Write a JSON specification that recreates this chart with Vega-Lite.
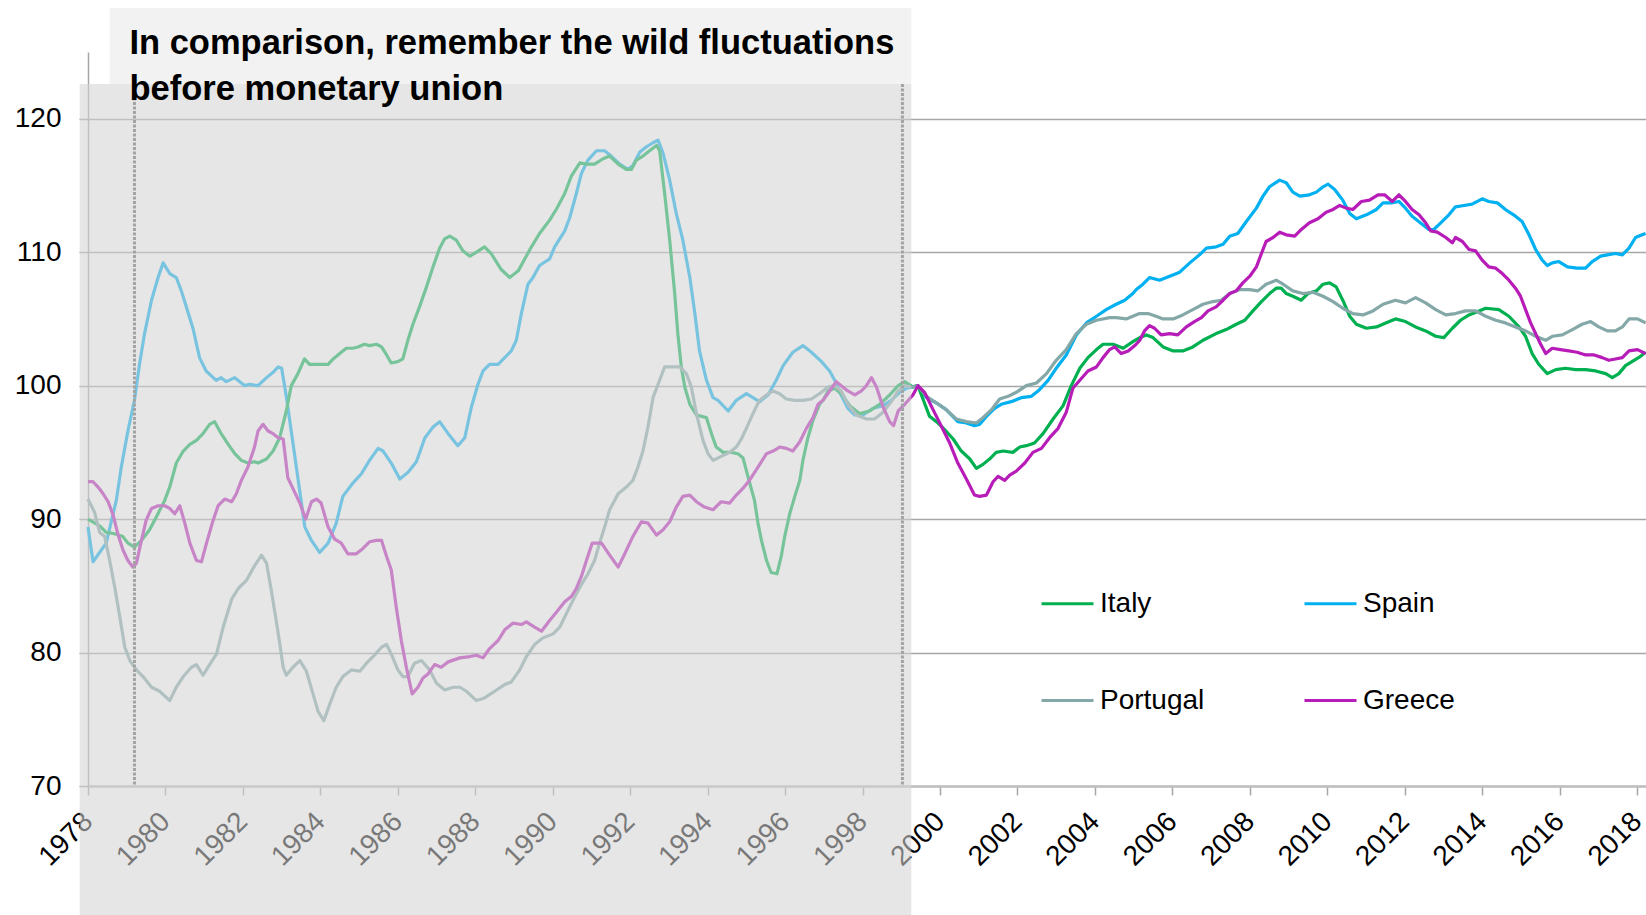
{
"$schema":"https://vega.github.io/schema/vega-lite/v6.json",
"width":1558,"height":734,
"autosize":{"type":"none"},
"padding":{"left":88,"top":52,"right":0,"bottom":129},
"background":"white",
"config":{"view":{"stroke":null},"axis":{"zindex":0}},
"datasets":{"series":[
{"c":"Spain","t":1978.0,"v":89.4},{"c":"Spain","t":1978.13,"v":86.8},{"c":"Spain","t":1978.47,"v":88.2},{"c":"Spain","t":1978.73,"v":91.4},{"c":"Spain","t":1978.86,"v":93.9},{"c":"Spain","t":1979.03,"v":96.6},{"c":"Spain","t":1979.2,"v":98.9},{"c":"Spain","t":1979.33,"v":101.6},{"c":"Spain","t":1979.46,"v":103.9},{"c":"Spain","t":1979.64,"v":106.4},{"c":"Spain","t":1979.81,"v":108.1},{"c":"Spain","t":1979.94,"v":109.2},{"c":"Spain","t":1980.11,"v":108.4},{"c":"Spain","t":1980.28,"v":108.1},{"c":"Spain","t":1980.41,"v":107.1},{"c":"Spain","t":1980.54,"v":105.9},{"c":"Spain","t":1980.71,"v":104.3},{"c":"Spain","t":1980.88,"v":102.1},{"c":"Spain","t":1981.05,"v":101.1},{"c":"Spain","t":1981.31,"v":100.4},{"c":"Spain","t":1981.44,"v":100.6},{"c":"Spain","t":1981.57,"v":100.3},{"c":"Spain","t":1981.79,"v":100.6},{"c":"Spain","t":1982.05,"v":100.0},{"c":"Spain","t":1982.17,"v":100.1},{"c":"Spain","t":1982.39,"v":100.0},{"c":"Spain","t":1982.61,"v":100.6},{"c":"Spain","t":1982.78,"v":101.0},{"c":"Spain","t":1982.91,"v":101.4},{"c":"Spain","t":1983.0,"v":101.3},{"c":"Spain","t":1983.12,"v":99.2},{"c":"Spain","t":1983.6,"v":89.4},{"c":"Spain","t":1983.77,"v":88.4},{"c":"Spain","t":1983.98,"v":87.5},{"c":"Spain","t":1984.2,"v":88.2},{"c":"Spain","t":1984.41,"v":89.7},{"c":"Spain","t":1984.58,"v":91.7},{"c":"Spain","t":1984.84,"v":92.7},{"c":"Spain","t":1985.06,"v":93.4},{"c":"Spain","t":1985.27,"v":94.4},{"c":"Spain","t":1985.49,"v":95.3},{"c":"Spain","t":1985.62,"v":95.1},{"c":"Spain","t":1985.83,"v":94.2},{"c":"Spain","t":1986.05,"v":93.0},{"c":"Spain","t":1986.26,"v":93.5},{"c":"Spain","t":1986.48,"v":94.3},{"c":"Spain","t":1986.7,"v":96.1},{"c":"Spain","t":1986.91,"v":96.9},{"c":"Spain","t":1987.08,"v":97.3},{"c":"Spain","t":1987.3,"v":96.4},{"c":"Spain","t":1987.55,"v":95.5},{"c":"Spain","t":1987.73,"v":96.1},{"c":"Spain","t":1987.9,"v":98.4},{"c":"Spain","t":1988.07,"v":100.1},{"c":"Spain","t":1988.2,"v":101.1},{"c":"Spain","t":1988.37,"v":101.6},{"c":"Spain","t":1988.59,"v":101.6},{"c":"Spain","t":1988.76,"v":102.1},{"c":"Spain","t":1988.93,"v":102.6},{"c":"Spain","t":1989.06,"v":103.4},{"c":"Spain","t":1989.19,"v":105.4},{"c":"Spain","t":1989.36,"v":107.6},{"c":"Spain","t":1989.49,"v":108.1},{"c":"Spain","t":1989.66,"v":109.0},{"c":"Spain","t":1989.92,"v":109.5},{"c":"Spain","t":1990.05,"v":110.4},{"c":"Spain","t":1990.31,"v":111.6},{"c":"Spain","t":1990.44,"v":112.6},{"c":"Spain","t":1990.61,"v":114.4},{"c":"Spain","t":1990.74,"v":115.9},{"c":"Spain","t":1990.91,"v":116.9},{"c":"Spain","t":1991.13,"v":117.6},{"c":"Spain","t":1991.34,"v":117.6},{"c":"Spain","t":1991.51,"v":117.2},{"c":"Spain","t":1991.73,"v":116.6},{"c":"Spain","t":1991.94,"v":116.2},{"c":"Spain","t":1992.07,"v":116.5},{"c":"Spain","t":1992.25,"v":117.5},{"c":"Spain","t":1992.42,"v":117.9},{"c":"Spain","t":1992.59,"v":118.2},{"c":"Spain","t":1992.72,"v":118.4},{"c":"Spain","t":1992.85,"v":117.4},{"c":"Spain","t":1993.02,"v":115.4},{"c":"Spain","t":1993.19,"v":112.9},{"c":"Spain","t":1993.36,"v":110.9},{"c":"Spain","t":1993.54,"v":108.1},{"c":"Spain","t":1993.67,"v":105.4},{"c":"Spain","t":1993.79,"v":102.6},{"c":"Spain","t":1993.97,"v":100.4},{"c":"Spain","t":1994.14,"v":99.1},{"c":"Spain","t":1994.27,"v":98.9},{"c":"Spain","t":1994.53,"v":98.1},{"c":"Spain","t":1994.74,"v":98.9},{"c":"Spain","t":1995.0,"v":99.4},{"c":"Spain","t":1995.17,"v":99.1},{"c":"Spain","t":1995.34,"v":98.8},{"c":"Spain","t":1995.56,"v":99.3},{"c":"Spain","t":1995.77,"v":100.4},{"c":"Spain","t":1995.95,"v":101.5},{"c":"Spain","t":1996.2,"v":102.5},{"c":"Spain","t":1996.46,"v":103.0},{"c":"Spain","t":1996.68,"v":102.5},{"c":"Spain","t":1996.94,"v":101.8},{"c":"Spain","t":1997.15,"v":101.1},{"c":"Spain","t":1997.28,"v":100.4},{"c":"Spain","t":1997.41,"v":99.5},{"c":"Spain","t":1997.62,"v":98.3},{"c":"Spain","t":1997.8,"v":97.8},{"c":"Spain","t":1998.01,"v":97.8},{"c":"Spain","t":1998.27,"v":98.3},{"c":"Spain","t":1998.53,"v":98.5},{"c":"Spain","t":1998.74,"v":98.9},{"c":"Spain","t":1998.96,"v":99.5},{"c":"Spain","t":1999.13,"v":99.8},{"c":"Spain","t":1999.43,"v":100.0},{"c":"Spain","t":1999.65,"v":99.1},{"c":"Spain","t":1999.91,"v":98.7},{"c":"Spain","t":2000.16,"v":98.2},{"c":"Spain","t":2000.46,"v":97.3},{"c":"Spain","t":2000.68,"v":97.2},{"c":"Spain","t":2000.89,"v":97.0},{"c":"Spain","t":2001.02,"v":97.1},{"c":"Spain","t":2001.2,"v":97.7},{"c":"Spain","t":2001.41,"v":98.3},{"c":"Spain","t":2001.58,"v":98.6},{"c":"Spain","t":2001.84,"v":98.8},{"c":"Spain","t":2002.1,"v":99.1},{"c":"Spain","t":2002.36,"v":99.2},{"c":"Spain","t":2002.57,"v":99.7},{"c":"Spain","t":2002.79,"v":100.4},{"c":"Spain","t":2003.0,"v":101.3},{"c":"Spain","t":2003.26,"v":102.3},{"c":"Spain","t":2003.52,"v":103.8},{"c":"Spain","t":2003.78,"v":104.7},{"c":"Spain","t":2004.04,"v":105.2},{"c":"Spain","t":2004.29,"v":105.7},{"c":"Spain","t":2004.55,"v":106.1},{"c":"Spain","t":2004.77,"v":106.4},{"c":"Spain","t":2004.98,"v":106.9},{"c":"Spain","t":2005.07,"v":107.2},{"c":"Spain","t":2005.24,"v":107.6},{"c":"Spain","t":2005.41,"v":108.1},{"c":"Spain","t":2005.67,"v":107.9},{"c":"Spain","t":2005.93,"v":108.2},{"c":"Spain","t":2006.19,"v":108.5},{"c":"Spain","t":2006.45,"v":109.2},{"c":"Spain","t":2006.7,"v":109.8},{"c":"Spain","t":2006.88,"v":110.3},{"c":"Spain","t":2007.13,"v":110.4},{"c":"Spain","t":2007.31,"v":110.6},{"c":"Spain","t":2007.48,"v":111.2},{"c":"Spain","t":2007.69,"v":111.4},{"c":"Spain","t":2007.91,"v":112.3},{"c":"Spain","t":2008.17,"v":113.3},{"c":"Spain","t":2008.34,"v":114.2},{"c":"Spain","t":2008.51,"v":114.9},{"c":"Spain","t":2008.77,"v":115.4},{"c":"Spain","t":2008.94,"v":115.2},{"c":"Spain","t":2009.11,"v":114.5},{"c":"Spain","t":2009.29,"v":114.2},{"c":"Spain","t":2009.54,"v":114.3},{"c":"Spain","t":2009.72,"v":114.5},{"c":"Spain","t":2009.89,"v":114.9},{"c":"Spain","t":2010.02,"v":115.1},{"c":"Spain","t":2010.19,"v":114.7},{"c":"Spain","t":2010.4,"v":113.9},{"c":"Spain","t":2010.58,"v":112.9},{"c":"Spain","t":2010.75,"v":112.5},{"c":"Spain","t":2011.01,"v":112.8},{"c":"Spain","t":2011.27,"v":113.2},{"c":"Spain","t":2011.44,"v":113.7},{"c":"Spain","t":2011.68,"v":113.7},{"c":"Spain","t":2011.85,"v":113.8},{"c":"Spain","t":2012.02,"v":113.3},{"c":"Spain","t":2012.19,"v":112.7},{"c":"Spain","t":2012.45,"v":112.1},{"c":"Spain","t":2012.62,"v":111.7},{"c":"Spain","t":2012.75,"v":111.7},{"c":"Spain","t":2012.93,"v":112.2},{"c":"Spain","t":2013.14,"v":112.8},{"c":"Spain","t":2013.31,"v":113.4},{"c":"Spain","t":2013.53,"v":113.5},{"c":"Spain","t":2013.74,"v":113.6},{"c":"Spain","t":2014.0,"v":114.0},{"c":"Spain","t":2014.17,"v":113.8},{"c":"Spain","t":2014.39,"v":113.7},{"c":"Spain","t":2014.6,"v":113.2},{"c":"Spain","t":2014.86,"v":112.7},{"c":"Spain","t":2015.03,"v":112.3},{"c":"Spain","t":2015.21,"v":111.3},{"c":"Spain","t":2015.38,"v":110.2},{"c":"Spain","t":2015.55,"v":109.4},{"c":"Spain","t":2015.68,"v":109.0},{"c":"Spain","t":2015.81,"v":109.2},{"c":"Spain","t":2015.98,"v":109.3},{"c":"Spain","t":2016.2,"v":108.9},{"c":"Spain","t":2016.45,"v":108.8},{"c":"Spain","t":2016.67,"v":108.8},{"c":"Spain","t":2016.84,"v":109.3},{"c":"Spain","t":2017.06,"v":109.7},{"c":"Spain","t":2017.23,"v":109.8},{"c":"Spain","t":2017.44,"v":109.9},{"c":"Spain","t":2017.62,"v":109.8},{"c":"Spain","t":2017.79,"v":110.3},{"c":"Spain","t":2017.96,"v":111.1},{"c":"Spain","t":2018.13,"v":111.3},{"c":"Spain","t":2018.22,"v":111.4},
{"c":"Italy","t":1978.0,"v":90.0},{"c":"Italy","t":1978.3,"v":89.5},{"c":"Italy","t":1978.47,"v":89.0},{"c":"Italy","t":1978.69,"v":88.9},{"c":"Italy","t":1978.9,"v":88.7},{"c":"Italy","t":1979.03,"v":88.2},{"c":"Italy","t":1979.2,"v":87.9},{"c":"Italy","t":1979.38,"v":88.4},{"c":"Italy","t":1979.59,"v":89.2},{"c":"Italy","t":1979.77,"v":90.2},{"c":"Italy","t":1979.98,"v":91.4},{"c":"Italy","t":1980.11,"v":92.4},{"c":"Italy","t":1980.28,"v":94.2},{"c":"Italy","t":1980.46,"v":95.1},{"c":"Italy","t":1980.63,"v":95.6},{"c":"Italy","t":1980.8,"v":95.9},{"c":"Italy","t":1980.97,"v":96.4},{"c":"Italy","t":1981.14,"v":97.1},{"c":"Italy","t":1981.27,"v":97.3},{"c":"Italy","t":1981.44,"v":96.4},{"c":"Italy","t":1981.62,"v":95.6},{"c":"Italy","t":1981.79,"v":94.9},{"c":"Italy","t":1981.96,"v":94.4},{"c":"Italy","t":1982.13,"v":94.2},{"c":"Italy","t":1982.3,"v":94.3},{"c":"Italy","t":1982.39,"v":94.2},{"c":"Italy","t":1982.61,"v":94.5},{"c":"Italy","t":1982.78,"v":95.1},{"c":"Italy","t":1982.95,"v":96.1},{"c":"Italy","t":1983.12,"v":98.1},{"c":"Italy","t":1983.25,"v":100.0},{"c":"Italy","t":1983.42,"v":100.9},{"c":"Italy","t":1983.59,"v":102.0},{"c":"Italy","t":1983.72,"v":101.6},{"c":"Italy","t":1984.2,"v":101.6},{"c":"Italy","t":1984.33,"v":102.0},{"c":"Italy","t":1984.5,"v":102.4},{"c":"Italy","t":1984.67,"v":102.8},{"c":"Italy","t":1984.84,"v":102.8},{"c":"Italy","t":1984.97,"v":102.9},{"c":"Italy","t":1985.14,"v":103.1},{"c":"Italy","t":1985.27,"v":103.0},{"c":"Italy","t":1985.45,"v":103.1},{"c":"Italy","t":1985.58,"v":102.9},{"c":"Italy","t":1985.71,"v":102.3},{"c":"Italy","t":1985.83,"v":101.7},{"c":"Italy","t":1986.0,"v":101.8},{"c":"Italy","t":1986.13,"v":102.0},{"c":"Italy","t":1986.26,"v":103.4},{"c":"Italy","t":1986.39,"v":104.6},{"c":"Italy","t":1986.56,"v":105.9},{"c":"Italy","t":1986.74,"v":107.4},{"c":"Italy","t":1986.91,"v":108.9},{"c":"Italy","t":1987.08,"v":110.3},{"c":"Italy","t":1987.21,"v":111.0},{"c":"Italy","t":1987.34,"v":111.2},{"c":"Italy","t":1987.51,"v":110.9},{"c":"Italy","t":1987.68,"v":110.1},{"c":"Italy","t":1987.86,"v":109.7},{"c":"Italy","t":1988.03,"v":110.0},{"c":"Italy","t":1988.24,"v":110.4},{"c":"Italy","t":1988.41,"v":109.9},{"c":"Italy","t":1988.67,"v":108.7},{"c":"Italy","t":1988.89,"v":108.1},{"c":"Italy","t":1989.11,"v":108.6},{"c":"Italy","t":1989.28,"v":109.5},{"c":"Italy","t":1989.45,"v":110.4},{"c":"Italy","t":1989.66,"v":111.4},{"c":"Italy","t":1989.92,"v":112.4},{"c":"Italy","t":1990.09,"v":113.2},{"c":"Italy","t":1990.31,"v":114.4},{"c":"Italy","t":1990.48,"v":115.7},{"c":"Italy","t":1990.7,"v":116.7},{"c":"Italy","t":1990.87,"v":116.6},{"c":"Italy","t":1991.08,"v":116.6},{"c":"Italy","t":1991.3,"v":117.0},{"c":"Italy","t":1991.47,"v":117.2},{"c":"Italy","t":1991.69,"v":116.6},{"c":"Italy","t":1991.9,"v":116.2},{"c":"Italy","t":1992.03,"v":116.2},{"c":"Italy","t":1992.16,"v":116.9},{"c":"Italy","t":1992.33,"v":117.2},{"c":"Italy","t":1992.5,"v":117.6},{"c":"Italy","t":1992.68,"v":118.0},{"c":"Italy","t":1992.76,"v":117.6},{"c":"Italy","t":1992.89,"v":114.4},{"c":"Italy","t":1993.02,"v":110.9},{"c":"Italy","t":1993.15,"v":106.9},{"c":"Italy","t":1993.23,"v":103.9},{"c":"Italy","t":1993.32,"v":101.4},{"c":"Italy","t":1993.41,"v":99.9},{"c":"Italy","t":1993.54,"v":98.6},{"c":"Italy","t":1993.71,"v":97.8},{"c":"Italy","t":1993.97,"v":97.6},{"c":"Italy","t":1994.1,"v":96.4},{"c":"Italy","t":1994.22,"v":95.4},{"c":"Italy","t":1994.4,"v":95.0},{"c":"Italy","t":1994.61,"v":95.0},{"c":"Italy","t":1994.78,"v":94.9},{"c":"Italy","t":1994.91,"v":94.6},{"c":"Italy","t":1995.04,"v":93.2},{"c":"Italy","t":1995.21,"v":91.4},{"c":"Italy","t":1995.3,"v":89.7},{"c":"Italy","t":1995.39,"v":88.4},{"c":"Italy","t":1995.52,"v":86.9},{"c":"Italy","t":1995.64,"v":86.0},{"c":"Italy","t":1995.79,"v":85.9},{"c":"Italy","t":1995.9,"v":87.2},{"c":"Italy","t":1995.99,"v":88.7},{"c":"Italy","t":1996.12,"v":90.4},{"c":"Italy","t":1996.25,"v":91.7},{"c":"Italy","t":1996.38,"v":92.9},{"c":"Italy","t":1996.46,"v":94.4},{"c":"Italy","t":1996.59,"v":96.1},{"c":"Italy","t":1996.72,"v":97.4},{"c":"Italy","t":1996.89,"v":98.6},{"c":"Italy","t":1996.98,"v":98.9},{"c":"Italy","t":1997.11,"v":99.6},{"c":"Italy","t":1997.28,"v":99.8},{"c":"Italy","t":1997.45,"v":99.4},{"c":"Italy","t":1997.67,"v":98.5},{"c":"Italy","t":1997.93,"v":97.9},{"c":"Italy","t":1998.18,"v":98.1},{"c":"Italy","t":1998.44,"v":98.6},{"c":"Italy","t":1998.7,"v":99.3},{"c":"Italy","t":1998.92,"v":100.0},{"c":"Italy","t":1999.09,"v":100.3},{"c":"Italy","t":1999.3,"v":99.9},{"c":"Italy","t":1999.43,"v":100.0},{"c":"Italy","t":1999.56,"v":99.0},{"c":"Italy","t":1999.73,"v":97.7},{"c":"Italy","t":1999.95,"v":97.2},{"c":"Italy","t":2000.12,"v":96.7},{"c":"Italy","t":2000.34,"v":96.0},{"c":"Italy","t":2000.55,"v":95.1},{"c":"Italy","t":2000.77,"v":94.5},{"c":"Italy","t":2000.94,"v":93.8},{"c":"Italy","t":2001.11,"v":94.1},{"c":"Italy","t":2001.28,"v":94.5},{"c":"Italy","t":2001.45,"v":95.0},{"c":"Italy","t":2001.63,"v":95.1},{"c":"Italy","t":2001.88,"v":95.0},{"c":"Italy","t":2002.06,"v":95.4},{"c":"Italy","t":2002.23,"v":95.5},{"c":"Italy","t":2002.44,"v":95.7},{"c":"Italy","t":2002.66,"v":96.4},{"c":"Italy","t":2002.92,"v":97.5},{"c":"Italy","t":2003.18,"v":98.5},{"c":"Italy","t":2003.39,"v":100.0},{"c":"Italy","t":2003.61,"v":101.3},{"c":"Italy","t":2003.82,"v":102.1},{"c":"Italy","t":2004.04,"v":102.7},{"c":"Italy","t":2004.21,"v":103.1},{"c":"Italy","t":2004.47,"v":103.1},{"c":"Italy","t":2004.73,"v":102.8},{"c":"Italy","t":2004.98,"v":103.3},{"c":"Italy","t":2005.16,"v":103.6},{"c":"Italy","t":2005.33,"v":103.8},{"c":"Italy","t":2005.5,"v":103.6},{"c":"Italy","t":2005.76,"v":102.9},{"c":"Italy","t":2006.02,"v":102.6},{"c":"Italy","t":2006.27,"v":102.6},{"c":"Italy","t":2006.53,"v":102.9},{"c":"Italy","t":2006.79,"v":103.4},{"c":"Italy","t":2007.13,"v":103.9},{"c":"Italy","t":2007.39,"v":104.2},{"c":"Italy","t":2007.65,"v":104.6},{"c":"Italy","t":2007.87,"v":104.9},{"c":"Italy","t":2008.08,"v":105.6},{"c":"Italy","t":2008.3,"v":106.3},{"c":"Italy","t":2008.51,"v":106.9},{"c":"Italy","t":2008.68,"v":107.3},{"c":"Italy","t":2008.81,"v":107.3},{"c":"Italy","t":2008.94,"v":106.9},{"c":"Italy","t":2009.11,"v":106.7},{"c":"Italy","t":2009.33,"v":106.4},{"c":"Italy","t":2009.5,"v":106.9},{"c":"Italy","t":2009.72,"v":107.1},{"c":"Italy","t":2009.89,"v":107.6},{"c":"Italy","t":2010.06,"v":107.7},{"c":"Italy","t":2010.23,"v":107.4},{"c":"Italy","t":2010.4,"v":106.4},{"c":"Italy","t":2010.58,"v":105.2},{"c":"Italy","t":2010.75,"v":104.6},{"c":"Italy","t":2011.01,"v":104.3},{"c":"Italy","t":2011.27,"v":104.4},{"c":"Italy","t":2011.51,"v":104.7},{"c":"Italy","t":2011.76,"v":105.0},{"c":"Italy","t":2012.02,"v":104.8},{"c":"Italy","t":2012.28,"v":104.4},{"c":"Italy","t":2012.54,"v":104.1},{"c":"Italy","t":2012.8,"v":103.7},{"c":"Italy","t":2013.01,"v":103.6},{"c":"Italy","t":2013.23,"v":104.3},{"c":"Italy","t":2013.44,"v":104.9},{"c":"Italy","t":2013.66,"v":105.3},{"c":"Italy","t":2013.92,"v":105.6},{"c":"Italy","t":2014.09,"v":105.8},{"c":"Italy","t":2014.43,"v":105.7},{"c":"Italy","t":2014.69,"v":105.2},{"c":"Italy","t":2014.95,"v":104.4},{"c":"Italy","t":2015.12,"v":103.7},{"c":"Italy","t":2015.29,"v":102.4},{"c":"Italy","t":2015.46,"v":101.6},{"c":"Italy","t":2015.68,"v":100.9},{"c":"Italy","t":2015.9,"v":101.2},{"c":"Italy","t":2016.15,"v":101.3},{"c":"Italy","t":2016.41,"v":101.2},{"c":"Italy","t":2016.67,"v":101.2},{"c":"Italy","t":2016.93,"v":101.1},{"c":"Italy","t":2017.19,"v":100.9},{"c":"Italy","t":2017.36,"v":100.6},{"c":"Italy","t":2017.53,"v":100.9},{"c":"Italy","t":2017.7,"v":101.5},{"c":"Italy","t":2017.92,"v":101.9},{"c":"Italy","t":2018.09,"v":102.2},{"c":"Italy","t":2018.22,"v":102.5},
{"c":"Portugal","t":1978.0,"v":91.5},{"c":"Portugal","t":1978.17,"v":90.5},{"c":"Portugal","t":1978.3,"v":89.0},{"c":"Portugal","t":1978.43,"v":88.7},{"c":"Portugal","t":1978.56,"v":86.9},{"c":"Portugal","t":1978.69,"v":84.9},{"c":"Portugal","t":1978.82,"v":82.7},{"c":"Portugal","t":1978.95,"v":80.4},{"c":"Portugal","t":1979.08,"v":79.4},{"c":"Portugal","t":1979.25,"v":78.7},{"c":"Portugal","t":1979.42,"v":78.2},{"c":"Portugal","t":1979.64,"v":77.4},{"c":"Portugal","t":1979.85,"v":77.1},{"c":"Portugal","t":1980.11,"v":76.4},{"c":"Portugal","t":1980.28,"v":77.4},{"c":"Portugal","t":1980.46,"v":78.2},{"c":"Portugal","t":1980.67,"v":78.9},{"c":"Portugal","t":1980.8,"v":79.1},{"c":"Portugal","t":1980.97,"v":78.3},{"c":"Portugal","t":1981.14,"v":79.1},{"c":"Portugal","t":1981.32,"v":79.9},{"c":"Portugal","t":1981.49,"v":81.9},{"c":"Portugal","t":1981.71,"v":84.0},{"c":"Portugal","t":1981.88,"v":84.8},{"c":"Portugal","t":1982.09,"v":85.4},{"c":"Portugal","t":1982.26,"v":86.3},{"c":"Portugal","t":1982.48,"v":87.3},{"c":"Portugal","t":1982.61,"v":86.7},{"c":"Portugal","t":1982.73,"v":84.7},{"c":"Portugal","t":1982.86,"v":82.4},{"c":"Portugal","t":1982.95,"v":80.7},{"c":"Portugal","t":1983.04,"v":78.9},{"c":"Portugal","t":1983.12,"v":78.3},{"c":"Portugal","t":1983.29,"v":78.9},{"c":"Portugal","t":1983.47,"v":79.4},{"c":"Portugal","t":1983.64,"v":78.6},{"c":"Portugal","t":1983.81,"v":76.9},{"c":"Portugal","t":1983.94,"v":75.6},{"c":"Portugal","t":1984.09,"v":74.9},{"c":"Portugal","t":1984.25,"v":76.2},{"c":"Portugal","t":1984.41,"v":77.4},{"c":"Portugal","t":1984.58,"v":78.2},{"c":"Portugal","t":1984.8,"v":78.7},{"c":"Portugal","t":1985.02,"v":78.6},{"c":"Portugal","t":1985.19,"v":79.2},{"c":"Portugal","t":1985.36,"v":79.7},{"c":"Portugal","t":1985.58,"v":80.4},{"c":"Portugal","t":1985.71,"v":80.6},{"c":"Portugal","t":1985.83,"v":79.9},{"c":"Portugal","t":1986.0,"v":78.7},{"c":"Portugal","t":1986.13,"v":78.2},{"c":"Portugal","t":1986.26,"v":78.2},{"c":"Portugal","t":1986.43,"v":79.2},{"c":"Portugal","t":1986.61,"v":79.4},{"c":"Portugal","t":1986.82,"v":78.7},{"c":"Portugal","t":1987.0,"v":77.7},{"c":"Portugal","t":1987.21,"v":77.2},{"c":"Portugal","t":1987.43,"v":77.4},{"c":"Portugal","t":1987.6,"v":77.4},{"c":"Portugal","t":1987.77,"v":77.1},{"c":"Portugal","t":1988.03,"v":76.4},{"c":"Portugal","t":1988.24,"v":76.6},{"c":"Portugal","t":1988.5,"v":77.1},{"c":"Portugal","t":1988.76,"v":77.6},{"c":"Portugal","t":1988.93,"v":77.8},{"c":"Portugal","t":1989.15,"v":78.7},{"c":"Portugal","t":1989.32,"v":79.7},{"c":"Portugal","t":1989.53,"v":80.6},{"c":"Portugal","t":1989.75,"v":81.1},{"c":"Portugal","t":1990.01,"v":81.4},{"c":"Portugal","t":1990.18,"v":81.9},{"c":"Portugal","t":1990.35,"v":82.9},{"c":"Portugal","t":1990.52,"v":83.9},{"c":"Portugal","t":1990.7,"v":84.9},{"c":"Portugal","t":1990.91,"v":85.9},{"c":"Portugal","t":1991.08,"v":86.9},{"c":"Portugal","t":1991.21,"v":88.2},{"c":"Portugal","t":1991.34,"v":89.4},{"c":"Portugal","t":1991.47,"v":90.7},{"c":"Portugal","t":1991.69,"v":91.9},{"c":"Portugal","t":1991.9,"v":92.4},{"c":"Portugal","t":1992.07,"v":92.9},{"c":"Portugal","t":1992.2,"v":93.9},{"c":"Portugal","t":1992.33,"v":95.1},{"c":"Portugal","t":1992.46,"v":96.9},{"c":"Portugal","t":1992.59,"v":99.1},{"c":"Portugal","t":1992.72,"v":100.1},{"c":"Portugal","t":1992.89,"v":101.4},{"c":"Portugal","t":1993.11,"v":101.4},{"c":"Portugal","t":1993.28,"v":101.4},{"c":"Portugal","t":1993.45,"v":100.9},{"c":"Portugal","t":1993.58,"v":99.9},{"c":"Portugal","t":1993.71,"v":97.9},{"c":"Portugal","t":1993.88,"v":95.9},{"c":"Portugal","t":1994.01,"v":94.9},{"c":"Portugal","t":1994.14,"v":94.4},{"c":"Portugal","t":1994.35,"v":94.7},{"c":"Portugal","t":1994.57,"v":95.0},{"c":"Portugal","t":1994.74,"v":95.4},{"c":"Portugal","t":1994.87,"v":96.0},{"c":"Portugal","t":1995.0,"v":96.8},{"c":"Portugal","t":1995.17,"v":97.9},{"c":"Portugal","t":1995.34,"v":98.9},{"c":"Portugal","t":1995.52,"v":99.3},{"c":"Portugal","t":1995.69,"v":99.6},{"c":"Portugal","t":1995.86,"v":99.4},{"c":"Portugal","t":1996.03,"v":99.0},{"c":"Portugal","t":1996.25,"v":98.9},{"c":"Portugal","t":1996.46,"v":98.9},{"c":"Portugal","t":1996.68,"v":99.0},{"c":"Portugal","t":1996.89,"v":99.4},{"c":"Portugal","t":1997.11,"v":99.9},{"c":"Portugal","t":1997.28,"v":100.0},{"c":"Portugal","t":1997.45,"v":99.6},{"c":"Portugal","t":1997.62,"v":98.6},{"c":"Portugal","t":1997.84,"v":97.8},{"c":"Portugal","t":1998.1,"v":97.5},{"c":"Portugal","t":1998.31,"v":97.5},{"c":"Portugal","t":1998.53,"v":98.0},{"c":"Portugal","t":1998.74,"v":98.8},{"c":"Portugal","t":1998.92,"v":99.6},{"c":"Portugal","t":1999.09,"v":100.0},{"c":"Portugal","t":1999.26,"v":99.9},{"c":"Portugal","t":1999.43,"v":100.0},{"c":"Portugal","t":1999.65,"v":99.2},{"c":"Portugal","t":1999.91,"v":98.7},{"c":"Portugal","t":2000.16,"v":98.2},{"c":"Portugal","t":2000.42,"v":97.5},{"c":"Portugal","t":2000.68,"v":97.3},{"c":"Portugal","t":2000.94,"v":97.2},{"c":"Portugal","t":2001.11,"v":97.6},{"c":"Portugal","t":2001.33,"v":98.2},{"c":"Portugal","t":2001.54,"v":99.0},{"c":"Portugal","t":2001.76,"v":99.2},{"c":"Portugal","t":2001.97,"v":99.5},{"c":"Portugal","t":2002.23,"v":100.0},{"c":"Portugal","t":2002.49,"v":100.2},{"c":"Portugal","t":2002.75,"v":100.9},{"c":"Portugal","t":2003.0,"v":101.9},{"c":"Portugal","t":2003.26,"v":102.7},{"c":"Portugal","t":2003.52,"v":103.9},{"c":"Portugal","t":2003.78,"v":104.6},{"c":"Portugal","t":2004.04,"v":104.9},{"c":"Portugal","t":2004.38,"v":105.1},{"c":"Portugal","t":2004.55,"v":105.1},{"c":"Portugal","t":2004.81,"v":105.0},{"c":"Portugal","t":2004.98,"v":105.2},{"c":"Portugal","t":2005.15,"v":105.4},{"c":"Portugal","t":2005.37,"v":105.4},{"c":"Portugal","t":2005.58,"v":105.2},{"c":"Portugal","t":2005.76,"v":105.0},{"c":"Portugal","t":2006.02,"v":105.0},{"c":"Portugal","t":2006.27,"v":105.3},{"c":"Portugal","t":2006.53,"v":105.7},{"c":"Portugal","t":2006.79,"v":106.1},{"c":"Portugal","t":2007.05,"v":106.3},{"c":"Portugal","t":2007.26,"v":106.4},{"c":"Portugal","t":2007.48,"v":106.9},{"c":"Portugal","t":2007.74,"v":107.2},{"c":"Portugal","t":2007.99,"v":107.2},{"c":"Portugal","t":2008.21,"v":107.1},{"c":"Portugal","t":2008.42,"v":107.6},{"c":"Portugal","t":2008.68,"v":107.9},{"c":"Portugal","t":2008.86,"v":107.6},{"c":"Portugal","t":2009.11,"v":107.1},{"c":"Portugal","t":2009.37,"v":106.9},{"c":"Portugal","t":2009.63,"v":107.0},{"c":"Portugal","t":2009.89,"v":106.7},{"c":"Portugal","t":2010.15,"v":106.3},{"c":"Portugal","t":2010.4,"v":105.8},{"c":"Portugal","t":2010.66,"v":105.4},{"c":"Portugal","t":2010.92,"v":105.3},{"c":"Portugal","t":2011.18,"v":105.6},{"c":"Portugal","t":2011.44,"v":106.1},{"c":"Portugal","t":2011.76,"v":106.4},{"c":"Portugal","t":2012.02,"v":106.2},{"c":"Portugal","t":2012.28,"v":106.6},{"c":"Portugal","t":2012.54,"v":106.2},{"c":"Portugal","t":2012.8,"v":105.7},{"c":"Portugal","t":2013.06,"v":105.3},{"c":"Portugal","t":2013.31,"v":105.4},{"c":"Portugal","t":2013.57,"v":105.6},{"c":"Portugal","t":2013.83,"v":105.6},{"c":"Portugal","t":2014.09,"v":105.2},{"c":"Portugal","t":2014.35,"v":104.9},{"c":"Portugal","t":2014.6,"v":104.7},{"c":"Portugal","t":2014.86,"v":104.4},{"c":"Portugal","t":2015.12,"v":104.1},{"c":"Portugal","t":2015.38,"v":103.7},{"c":"Portugal","t":2015.64,"v":103.4},{"c":"Portugal","t":2015.81,"v":103.7},{"c":"Portugal","t":2016.07,"v":103.8},{"c":"Portugal","t":2016.33,"v":104.2},{"c":"Portugal","t":2016.58,"v":104.6},{"c":"Portugal","t":2016.8,"v":104.8},{"c":"Portugal","t":2017.01,"v":104.4},{"c":"Portugal","t":2017.23,"v":104.1},{"c":"Portugal","t":2017.44,"v":104.1},{"c":"Portugal","t":2017.62,"v":104.4},{"c":"Portugal","t":2017.79,"v":105.0},{"c":"Portugal","t":2018.01,"v":105.0},{"c":"Portugal","t":2018.22,"v":104.7},
{"c":"Greece","t":1978.0,"v":92.8},{"c":"Greece","t":1978.13,"v":92.8},{"c":"Greece","t":1978.26,"v":92.4},{"c":"Greece","t":1978.39,"v":91.9},{"c":"Greece","t":1978.52,"v":91.3},{"c":"Greece","t":1978.65,"v":90.3},{"c":"Greece","t":1978.77,"v":88.9},{"c":"Greece","t":1978.9,"v":87.7},{"c":"Greece","t":1979.03,"v":86.9},{"c":"Greece","t":1979.16,"v":86.4},{"c":"Greece","t":1979.25,"v":86.7},{"c":"Greece","t":1979.38,"v":88.4},{"c":"Greece","t":1979.5,"v":89.9},{"c":"Greece","t":1979.64,"v":90.8},{"c":"Greece","t":1979.81,"v":91.0},{"c":"Greece","t":1979.98,"v":91.0},{"c":"Greece","t":1980.11,"v":90.8},{"c":"Greece","t":1980.24,"v":90.4},{"c":"Greece","t":1980.37,"v":91.0},{"c":"Greece","t":1980.5,"v":89.7},{"c":"Greece","t":1980.63,"v":88.2},{"c":"Greece","t":1980.8,"v":86.9},{"c":"Greece","t":1980.93,"v":86.8},{"c":"Greece","t":1981.06,"v":88.2},{"c":"Greece","t":1981.23,"v":89.9},{"c":"Greece","t":1981.36,"v":91.0},{"c":"Greece","t":1981.53,"v":91.5},{"c":"Greece","t":1981.71,"v":91.3},{"c":"Greece","t":1981.83,"v":91.9},{"c":"Greece","t":1981.96,"v":92.9},{"c":"Greece","t":1982.13,"v":93.9},{"c":"Greece","t":1982.3,"v":95.4},{"c":"Greece","t":1982.39,"v":96.6},{"c":"Greece","t":1982.52,"v":97.1},{"c":"Greece","t":1982.65,"v":96.6},{"c":"Greece","t":1982.78,"v":96.4},{"c":"Greece","t":1982.91,"v":96.1},{"c":"Greece","t":1983.04,"v":96.0},{"c":"Greece","t":1983.16,"v":93.1},{"c":"Greece","t":1983.29,"v":92.3},{"c":"Greece","t":1983.47,"v":91.2},{"c":"Greece","t":1983.62,"v":90.0},{"c":"Greece","t":1983.77,"v":91.3},{"c":"Greece","t":1983.9,"v":91.5},{"c":"Greece","t":1984.02,"v":91.2},{"c":"Greece","t":1984.2,"v":89.4},{"c":"Greece","t":1984.37,"v":88.5},{"c":"Greece","t":1984.54,"v":88.2},{"c":"Greece","t":1984.71,"v":87.4},{"c":"Greece","t":1984.93,"v":87.4},{"c":"Greece","t":1985.1,"v":87.8},{"c":"Greece","t":1985.27,"v":88.3},{"c":"Greece","t":1985.45,"v":88.4},{"c":"Greece","t":1985.58,"v":88.4},{"c":"Greece","t":1985.71,"v":87.2},{"c":"Greece","t":1985.83,"v":86.2},{"c":"Greece","t":1985.96,"v":83.4},{"c":"Greece","t":1986.09,"v":80.9},{"c":"Greece","t":1986.22,"v":78.9},{"c":"Greece","t":1986.37,"v":76.9},{"c":"Greece","t":1986.52,"v":77.4},{"c":"Greece","t":1986.65,"v":78.1},{"c":"Greece","t":1986.78,"v":78.4},{"c":"Greece","t":1986.95,"v":79.1},{"c":"Greece","t":1987.12,"v":78.9},{"c":"Greece","t":1987.3,"v":79.3},{"c":"Greece","t":1987.6,"v":79.6},{"c":"Greece","t":1987.86,"v":79.7},{"c":"Greece","t":1988.03,"v":79.8},{"c":"Greece","t":1988.2,"v":79.6},{"c":"Greece","t":1988.37,"v":80.3},{"c":"Greece","t":1988.59,"v":80.9},{"c":"Greece","t":1988.76,"v":81.7},{"c":"Greece","t":1988.97,"v":82.2},{"c":"Greece","t":1989.19,"v":82.1},{"c":"Greece","t":1989.32,"v":82.3},{"c":"Greece","t":1989.53,"v":81.9},{"c":"Greece","t":1989.71,"v":81.6},{"c":"Greece","t":1989.92,"v":82.4},{"c":"Greece","t":1990.09,"v":83.0},{"c":"Greece","t":1990.31,"v":83.8},{"c":"Greece","t":1990.48,"v":84.2},{"c":"Greece","t":1990.61,"v":84.8},{"c":"Greece","t":1990.74,"v":85.7},{"c":"Greece","t":1990.87,"v":86.9},{"c":"Greece","t":1991.02,"v":88.2},{"c":"Greece","t":1991.26,"v":88.2},{"c":"Greece","t":1991.47,"v":87.3},{"c":"Greece","t":1991.69,"v":86.4},{"c":"Greece","t":1991.86,"v":87.4},{"c":"Greece","t":1992.07,"v":88.7},{"c":"Greece","t":1992.29,"v":89.8},{"c":"Greece","t":1992.46,"v":89.7},{"c":"Greece","t":1992.68,"v":88.8},{"c":"Greece","t":1992.85,"v":89.2},{"c":"Greece","t":1993.02,"v":89.8},{"c":"Greece","t":1993.19,"v":90.9},{"c":"Greece","t":1993.36,"v":91.7},{"c":"Greece","t":1993.54,"v":91.8},{"c":"Greece","t":1993.71,"v":91.3},{"c":"Greece","t":1993.92,"v":90.9},{"c":"Greece","t":1994.14,"v":90.7},{"c":"Greece","t":1994.35,"v":91.3},{"c":"Greece","t":1994.57,"v":91.2},{"c":"Greece","t":1994.74,"v":91.8},{"c":"Greece","t":1994.91,"v":92.3},{"c":"Greece","t":1995.08,"v":92.9},{"c":"Greece","t":1995.3,"v":93.9},{"c":"Greece","t":1995.52,"v":94.9},{"c":"Greece","t":1995.69,"v":95.1},{"c":"Greece","t":1995.86,"v":95.4},{"c":"Greece","t":1996.03,"v":95.3},{"c":"Greece","t":1996.2,"v":95.1},{"c":"Greece","t":1996.38,"v":95.8},{"c":"Greece","t":1996.55,"v":96.8},{"c":"Greece","t":1996.72,"v":97.6},{"c":"Greece","t":1996.85,"v":98.6},{"c":"Greece","t":1996.98,"v":98.9},{"c":"Greece","t":1997.15,"v":99.6},{"c":"Greece","t":1997.32,"v":100.3},{"c":"Greece","t":1997.45,"v":100.0},{"c":"Greece","t":1997.62,"v":99.6},{"c":"Greece","t":1997.8,"v":99.3},{"c":"Greece","t":1997.97,"v":99.6},{"c":"Greece","t":1998.1,"v":100.0},{"c":"Greece","t":1998.23,"v":100.6},{"c":"Greece","t":1998.36,"v":99.9},{"c":"Greece","t":1998.53,"v":98.4},{"c":"Greece","t":1998.7,"v":97.3},{"c":"Greece","t":1998.8,"v":97.0},{"c":"Greece","t":1998.92,"v":98.1},{"c":"Greece","t":1999.09,"v":98.6},{"c":"Greece","t":1999.3,"v":99.3},{"c":"Greece","t":1999.43,"v":100.0},{"c":"Greece","t":1999.6,"v":99.5},{"c":"Greece","t":1999.82,"v":98.2},{"c":"Greece","t":2000.03,"v":97.0},{"c":"Greece","t":2000.25,"v":95.7},{"c":"Greece","t":2000.46,"v":94.2},{"c":"Greece","t":2000.68,"v":93.0},{"c":"Greece","t":2000.89,"v":91.8},{"c":"Greece","t":2001.02,"v":91.7},{"c":"Greece","t":2001.2,"v":91.8},{"c":"Greece","t":2001.37,"v":92.8},{"c":"Greece","t":2001.5,"v":93.2},{"c":"Greece","t":2001.67,"v":92.9},{"c":"Greece","t":2001.8,"v":93.3},{"c":"Greece","t":2001.97,"v":93.6},{"c":"Greece","t":2002.19,"v":94.2},{"c":"Greece","t":2002.4,"v":95.0},{"c":"Greece","t":2002.62,"v":95.3},{"c":"Greece","t":2002.83,"v":96.1},{"c":"Greece","t":2003.05,"v":96.8},{"c":"Greece","t":2003.26,"v":98.0},{"c":"Greece","t":2003.43,"v":99.8},{"c":"Greece","t":2003.61,"v":100.4},{"c":"Greece","t":2003.82,"v":101.1},{"c":"Greece","t":2004.04,"v":101.4},{"c":"Greece","t":2004.21,"v":102.1},{"c":"Greece","t":2004.38,"v":102.7},{"c":"Greece","t":2004.51,"v":102.9},{"c":"Greece","t":2004.68,"v":102.4},{"c":"Greece","t":2004.86,"v":102.6},{"c":"Greece","t":2005.03,"v":103.0},{"c":"Greece","t":2005.16,"v":103.4},{"c":"Greece","t":2005.28,"v":104.1},{"c":"Greece","t":2005.41,"v":104.5},{"c":"Greece","t":2005.54,"v":104.3},{"c":"Greece","t":2005.71,"v":103.8},{"c":"Greece","t":2005.93,"v":103.9},{"c":"Greece","t":2006.14,"v":103.8},{"c":"Greece","t":2006.36,"v":104.4},{"c":"Greece","t":2006.57,"v":104.8},{"c":"Greece","t":2006.75,"v":105.1},{"c":"Greece","t":2006.92,"v":105.6},{"c":"Greece","t":2007.13,"v":105.9},{"c":"Greece","t":2007.31,"v":106.4},{"c":"Greece","t":2007.48,"v":106.9},{"c":"Greece","t":2007.65,"v":107.1},{"c":"Greece","t":2007.82,"v":107.7},{"c":"Greece","t":2008.0,"v":108.2},{"c":"Greece","t":2008.17,"v":108.9},{"c":"Greece","t":2008.3,"v":109.9},{"c":"Greece","t":2008.42,"v":110.8},{"c":"Greece","t":2008.6,"v":111.1},{"c":"Greece","t":2008.77,"v":111.5},{"c":"Greece","t":2008.94,"v":111.3},{"c":"Greece","t":2009.16,"v":111.2},{"c":"Greece","t":2009.33,"v":111.7},{"c":"Greece","t":2009.54,"v":112.2},{"c":"Greece","t":2009.76,"v":112.5},{"c":"Greece","t":2009.97,"v":113.0},{"c":"Greece","t":2010.15,"v":113.2},{"c":"Greece","t":2010.32,"v":113.5},{"c":"Greece","t":2010.49,"v":113.3},{"c":"Greece","t":2010.66,"v":113.2},{"c":"Greece","t":2010.88,"v":113.8},{"c":"Greece","t":2011.09,"v":113.9},{"c":"Greece","t":2011.31,"v":114.3},{"c":"Greece","t":2011.48,"v":114.3},{"c":"Greece","t":2011.68,"v":113.8},{"c":"Greece","t":2011.85,"v":114.3},{"c":"Greece","t":2012.02,"v":113.8},{"c":"Greece","t":2012.19,"v":113.2},{"c":"Greece","t":2012.37,"v":112.8},{"c":"Greece","t":2012.54,"v":112.2},{"c":"Greece","t":2012.67,"v":111.6},{"c":"Greece","t":2012.84,"v":111.5},{"c":"Greece","t":2013.06,"v":111.1},{"c":"Greece","t":2013.23,"v":110.7},{"c":"Greece","t":2013.31,"v":111.1},{"c":"Greece","t":2013.49,"v":110.8},{"c":"Greece","t":2013.66,"v":110.2},{"c":"Greece","t":2013.83,"v":110.1},{"c":"Greece","t":2014.0,"v":109.4},{"c":"Greece","t":2014.17,"v":108.9},{"c":"Greece","t":2014.35,"v":108.8},{"c":"Greece","t":2014.52,"v":108.4},{"c":"Greece","t":2014.69,"v":107.9},{"c":"Greece","t":2014.86,"v":107.3},{"c":"Greece","t":2014.99,"v":106.7},{"c":"Greece","t":2015.12,"v":105.7},{"c":"Greece","t":2015.25,"v":104.7},{"c":"Greece","t":2015.38,"v":103.9},{"c":"Greece","t":2015.51,"v":103.1},{"c":"Greece","t":2015.64,"v":102.4},{"c":"Greece","t":2015.81,"v":102.8},{"c":"Greece","t":2016.02,"v":102.7},{"c":"Greece","t":2016.24,"v":102.6},{"c":"Greece","t":2016.45,"v":102.5},{"c":"Greece","t":2016.67,"v":102.3},{"c":"Greece","t":2016.89,"v":102.3},{"c":"Greece","t":2017.1,"v":102.1},{"c":"Greece","t":2017.27,"v":101.9},{"c":"Greece","t":2017.44,"v":102.0},{"c":"Greece","t":2017.62,"v":102.1},{"c":"Greece","t":2017.79,"v":102.6},{"c":"Greece","t":2018.01,"v":102.7},{"c":"Greece","t":2018.22,"v":102.4}
]},
"layer":[
{"data":{"name":"series"},
 "mark":{"type":"line","strokeWidth":3.2,"strokeJoin":"round"},
 "encoding":{
  "x":{"field":"t","type":"quantitative","scale":{"domain":[1978,2018.23],"nice":false,"zero":false},
   "axis":{"values":[1978,1980,1982,1984,1986,1988,1990,1992,1994,1996,1998,2000,2002,2004,2006,2008,2010,2012,2014,2016,2018],"format":"d","title":null,"grid":false,"labelAngle":-45,"labelAlign":"right","labelBaseline":"middle","labelFont":"Liberation Sans","labelFontSize":28,"labelColor":"#000000","labelPadding":22,"labelOverlap":false,"labelFlush":false,"tickSize":9,"tickColor":"#a6a6a6","tickWidth":1.5,"domainColor":"#bfbfbf","domainWidth":2.5}},
  "y":{"field":"v","type":"quantitative","scale":{"domain":[70,125],"nice":false,"zero":false},
   "axis":{"values":[70,80,90,100,110,120],"title":null,"grid":true,"gridColor":"#a6a6a6","gridWidth":1.5,"labelFont":"Liberation Sans","labelFontSize":28,"labelColor":"#000000","labelPadding":18,"tickSize":9,"tickColor":"#a6a6a6","tickWidth":1.5,"domainColor":"#a6a6a6","domainWidth":1.5}},
  "color":{"field":"c","type":"nominal","scale":{"domain":["Italy","Spain","Portugal","Greece"],"range":["#00b050","#00b0f0","#84a8a7","#b81cb8"]},
   "legend":{"orient":"none","legendX":952,"legendY":524,"columns":2,"direction":"horizontal","title":null,"symbolType":"stroke","symbolSize":2704,"symbolStrokeWidth":3,"labelFont":"Liberation Sans","labelFontSize":28,"labelColor":"#000000","labelOffset":5,"columnPadding":93,"rowPadding":55,"padding":0}}
 }},
{"data":{"values":[{"region":"pre-EMU shading"}]},
 "mark":{"type":"rect","fill":"#d3d3d3","opacity":0.57},
 "encoding":{"x":{"datum":1977.786,"type":"quantitative"},"x2":{"datum":1999.26},"y":{"datum":122.6,"type":"quantitative"},"y2":{"datum":60}}},
{"data":{"values":[{"event":"EMS","t":1979.2},{"event":"EMU","t":1999.03}]},
 "mark":{"type":"rule","color":"#a3a3a3","strokeWidth":3,"strokeDash":[3,1.5]},
 "encoding":{"x":{"field":"t","type":"quantitative"},"y":{"datum":122.6,"type":"quantitative"},"y2":{"datum":70}}},
{"data":{"values":[{"region":"title box"}]},
 "mark":{"type":"rect","fill":"#f2f2f2"},
 "encoding":{"x":{"datum":1978.56,"type":"quantitative"},"x2":{"datum":1999.26},"y":{"datum":128.29,"type":"quantitative"},"y2":{"datum":122.6}}},
{"data":{"values":[{"region":"title"}]},
 "mark":{"type":"text","text":["In comparison, remember the wild fluctuations","before monetary union"],"font":"Liberation Sans","fontWeight":"bold","fontSize":34.5,"lineHeight":46,"align":"left","baseline":"alphabetic","color":"#000000"},
 "encoding":{"x":{"datum":1979.07,"type":"quantitative"},"y":{"datum":124.87,"type":"quantitative"}}}
]
}
